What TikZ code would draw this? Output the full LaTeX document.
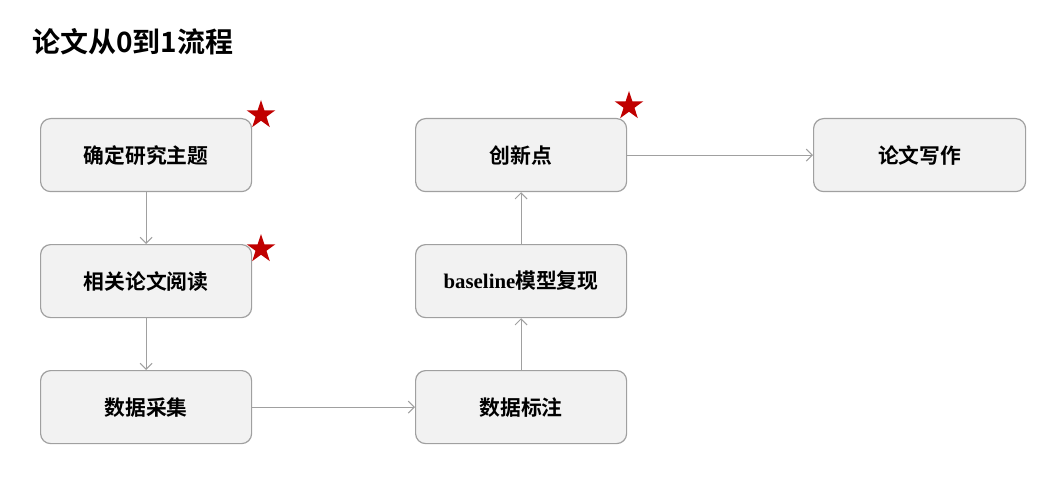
\documentclass[tikz,border=0pt]{standalone}
\usepackage{fontspec}
\setmainfont{Liberation Serif}
\newfontfamily\cjk{Noto Sans CJK SC}[BoldFont={* Bold}]
\usetikzlibrary{shapes.geometric,arrows.meta}
\definecolor{boxfill}{HTML}{F2F2F2}
\definecolor{boxline}{HTML}{A0A0A0}
\definecolor{starred}{HTML}{C00000}
\begin{document}
\begin{tikzpicture}[x=1pt,y=-1pt,
  stepbox/.style={draw=boxline,line width=1.2pt,fill=boxfill,rounded corners=10pt,
    minimum width=211pt,minimum height=73pt,inner sep=0pt,anchor=north west,
    font=\fontsize{20.8}{24}\selectfont\bfseries\cjk},
  conn/.style={draw=boxline,line width=1pt,-{Straight Barb[length=6pt,width=12pt]}},
  redstar/.style={star,star points=5,star point ratio=2.618,fill=starred,draw=none,
    minimum size=30pt,inner sep=0pt}]
\useasboundingbox (0,0) rectangle (1057,481);
\node[anchor=west,font=\fontsize{28}{32}\selectfont\bfseries\cjk,inner sep=0pt] (title) at (32,42) {论文从0到1流程};
\node[stepbox] (b1) at (40,118) {确定研究主题};
\node[stepbox] (b2) at (40,244) {相关论文阅读};
\node[stepbox] (b3) at (40,370) {数据采集};
\node[stepbox] (b4) at (415,370) {数据标注};
\node[stepbox] (b5) at (415,244) {{\rmfamily\bfseries baseline}模型复现};
\node[stepbox] (b6) at (415,118) {创新点};
\node[stepbox,minimum width=212pt] (b7) at (813,118) {论文写作};
\node[redstar] (s1) at (261,115) {};
\node[redstar] (s2) at (261,249) {};
\node[redstar] (s3) at (629,106) {};
\draw[conn] (b1.south) -- (b2.north);
\draw[conn] (b2.south) -- (b3.north);
\draw[conn] (b3.east) -- (b4.west);
\draw[conn] (b4.north) -- (b5.south);
\draw[conn] (b5.north) -- (b6.south);
\draw[conn] (b6.east) -- (b7.west);
\end{tikzpicture}
\end{document}
